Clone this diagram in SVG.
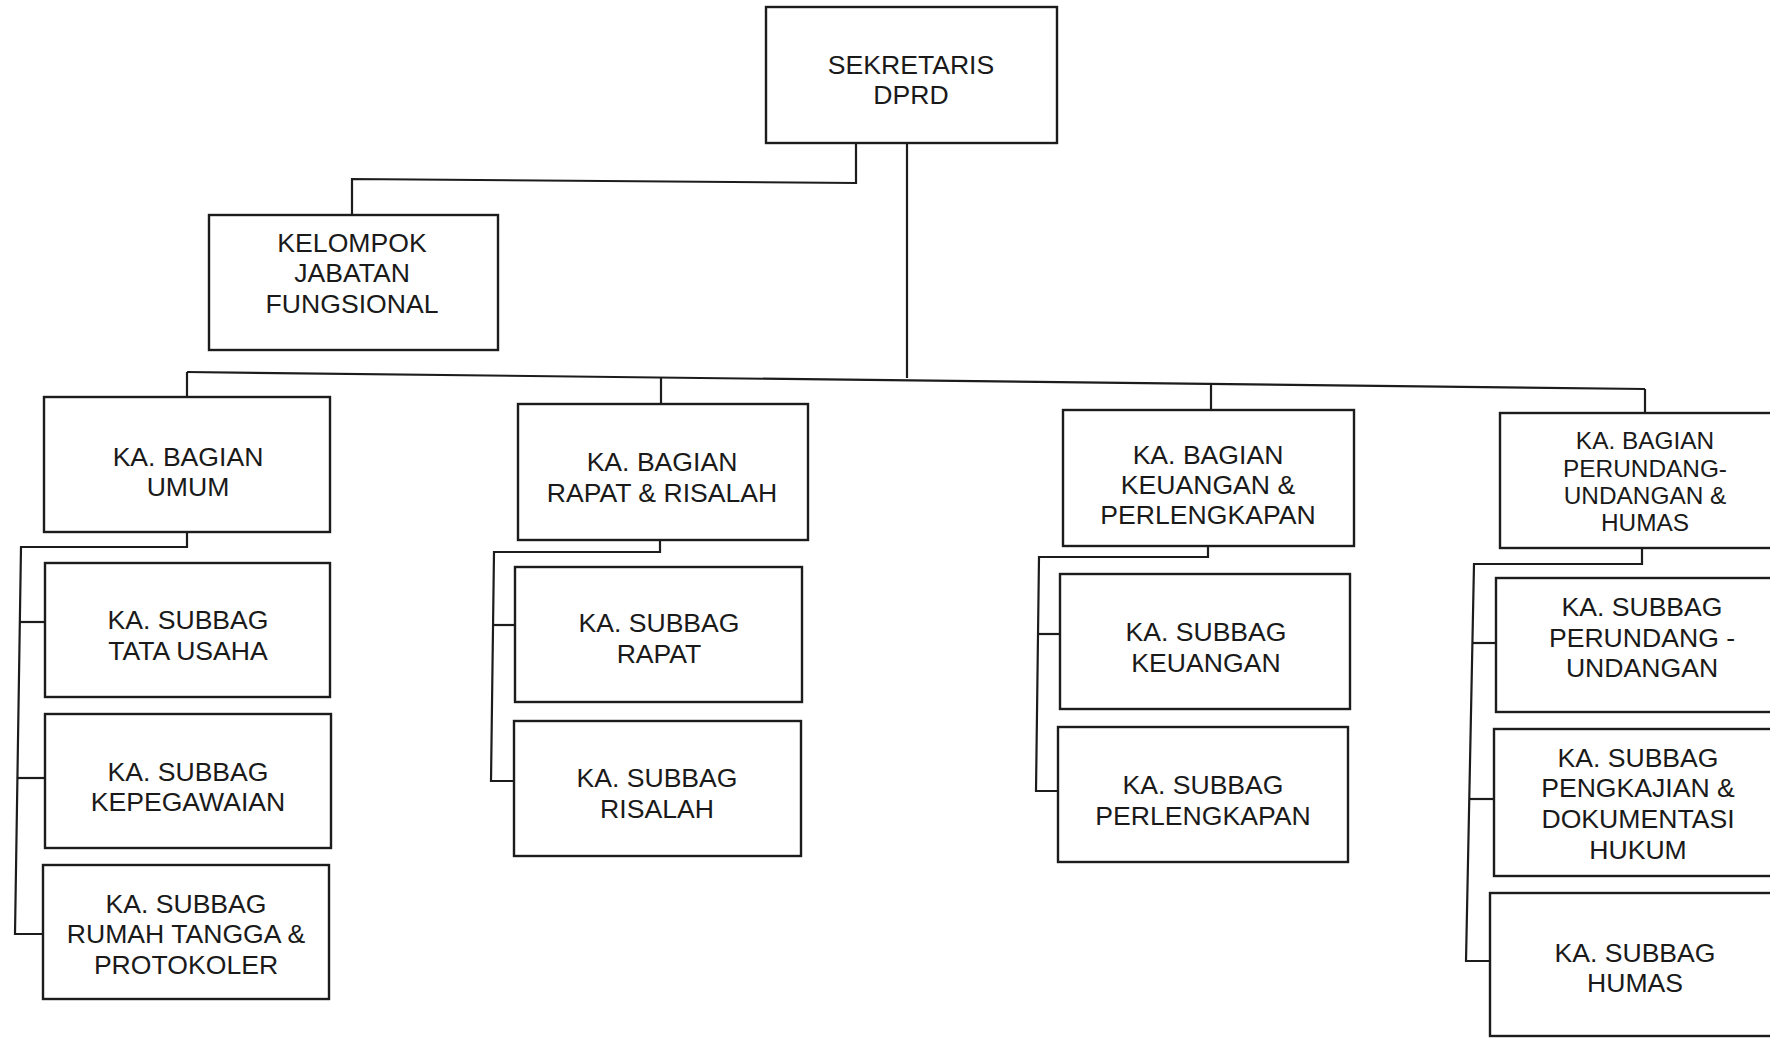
<svg xmlns="http://www.w3.org/2000/svg" width="1770" height="1038" viewBox="0 0 1770 1038">
  <style>
    .box { fill: #ffffff; stroke: #1c1c1c; stroke-width: 2.4; }
    .line { fill: none; stroke: #1c1c1c; stroke-width: 2.2; stroke-linejoin: miter; }
    text { font-family: "Liberation Sans", Arial, sans-serif; font-size: 26.6px; fill: #1a1a1a; text-anchor: middle; }
    .sm { font-size: 24.4px; }
  </style>
  <rect width="1770" height="1038" fill="#ffffff"/>

  <!-- connectors -->
  <g id="connectors">
    <path class="line" d="M856,143 V183 L352,179 V215"/>
    <path class="line" d="M907,143 V378"/>
    <path class="line" d="M187,372 L1645,389"/>
    <path class="line" d="M187,372 V397"/>
    <path class="line" d="M661,377.5 V404"/>
    <path class="line" d="M1211,384 V410"/>
    <path class="line" d="M1645,389 V413"/>
    <!-- umum -->
    <path class="line" d="M187,532 V547 H21 L15,934 H44"/>
    <path class="line" d="M19.5,622 H45"/>
    <path class="line" d="M17.3,778 H45"/>
    <!-- rapat & risalah -->
    <path class="line" d="M660,540 V552 H494 L491,781 H514"/>
    <path class="line" d="M492.8,625 H515"/>
    <!-- keuangan & perlengkapan -->
    <path class="line" d="M1208,546 V557 H1039 L1036,791 H1058"/>
    <path class="line" d="M1038,634 H1060"/>
    <!-- perundang-undangan & humas -->
    <path class="line" d="M1642,548 V564 H1474 L1466,961 H1490"/>
    <path class="line" d="M1472.4,643 H1496"/>
    <path class="line" d="M1469.2,799 H1494"/>
  </g>

  <g id="sekretaris">
    <rect class="box" x="766" y="7" width="291" height="136"/>
    <text x="911" y="74">SEKRETARIS</text>
    <text x="911" y="104">DPRD</text>
  </g>

  <g id="kelompok-jabatan">
    <rect class="box" x="209" y="215" width="289" height="135"/>
    <text x="352" y="252">KELOMPOK</text>
    <text x="352" y="282">JABATAN</text>
    <text x="352" y="313">FUNGSIONAL</text>
  </g>

  <!-- Bagian Umum -->
  <g id="bagian-umum">
    <rect class="box" x="44" y="397" width="286" height="135"/>
    <text x="188" y="466">KA. BAGIAN</text>
    <text x="188" y="496">UMUM</text>
  </g>
  <g id="subbag-tata-usaha">
    <rect class="box" x="45" y="563" width="285" height="134"/>
    <text x="188" y="629">KA. SUBBAG</text>
    <text x="188" y="660">TATA USAHA</text>
  </g>
  <g id="subbag-kepegawaian">
    <rect class="box" x="45" y="714" width="286" height="134"/>
    <text x="188" y="781">KA. SUBBAG</text>
    <text x="188" y="811">KEPEGAWAIAN</text>
  </g>
  <g id="subbag-rumah-tangga">
    <rect class="box" x="43" y="865" width="286" height="134"/>
    <text x="186" y="913">KA. SUBBAG</text>
    <text x="186" y="943">RUMAH TANGGA &amp;</text>
    <text x="186" y="974">PROTOKOLER</text>
  </g>

  <!-- Bagian Rapat & Risalah -->
  <g id="bagian-rapat-risalah">
    <rect class="box" x="518" y="404" width="290" height="136"/>
    <text x="662" y="471">KA. BAGIAN</text>
    <text x="662" y="502">RAPAT &amp; RISALAH</text>
  </g>
  <g id="subbag-rapat">
    <rect class="box" x="515" y="567" width="287" height="135"/>
    <text x="659" y="632">KA. SUBBAG</text>
    <text x="659" y="663">RAPAT</text>
  </g>
  <g id="subbag-risalah">
    <rect class="box" x="514" y="721" width="287" height="135"/>
    <text x="657" y="787">KA. SUBBAG</text>
    <text x="657" y="818">RISALAH</text>
  </g>

  <!-- Bagian Keuangan & Perlengkapan -->
  <g id="bagian-keuangan">
    <rect class="box" x="1063" y="410" width="291" height="136"/>
    <text x="1208" y="464">KA. BAGIAN</text>
    <text x="1208" y="494">KEUANGAN &amp;</text>
    <text x="1208" y="524">PERLENGKAPAN</text>
  </g>
  <g id="subbag-keuangan">
    <rect class="box" x="1060" y="574" width="290" height="135"/>
    <text x="1206" y="641">KA. SUBBAG</text>
    <text x="1206" y="672">KEUANGAN</text>
  </g>
  <g id="subbag-perlengkapan">
    <rect class="box" x="1058" y="727" width="290" height="135"/>
    <text x="1203" y="794">KA. SUBBAG</text>
    <text x="1203" y="825">PERLENGKAPAN</text>
  </g>

  <!-- Bagian Perundang-undangan & Humas -->
  <g id="bagian-perundangan">
    <rect class="box" x="1500" y="413" width="290" height="135"/>
    <text class="sm" x="1645" y="449">KA. BAGIAN</text>
    <text class="sm" x="1645" y="477">PERUNDANG-</text>
    <text class="sm" x="1645" y="504">UNDANGAN &amp;</text>
    <text class="sm" x="1645" y="531">HUMAS</text>
  </g>
  <g id="subbag-perundangan">
    <rect class="box" x="1496" y="578" width="294" height="134"/>
    <text x="1642" y="616">KA. SUBBAG</text>
    <text x="1642" y="647">PERUNDANG -</text>
    <text x="1642" y="677">UNDANGAN</text>
  </g>
  <g id="subbag-pengkajian">
    <rect class="box" x="1494" y="729" width="296" height="147"/>
    <text x="1638" y="767">KA. SUBBAG</text>
    <text x="1638" y="797">PENGKAJIAN &amp;</text>
    <text x="1638" y="828">DOKUMENTASI</text>
    <text x="1638" y="859">HUKUM</text>
  </g>
  <g id="subbag-humas">
    <rect class="box" x="1490" y="893" width="300" height="143"/>
    <text x="1635" y="962">KA. SUBBAG</text>
    <text x="1635" y="992">HUMAS</text>
  </g>
</svg>
